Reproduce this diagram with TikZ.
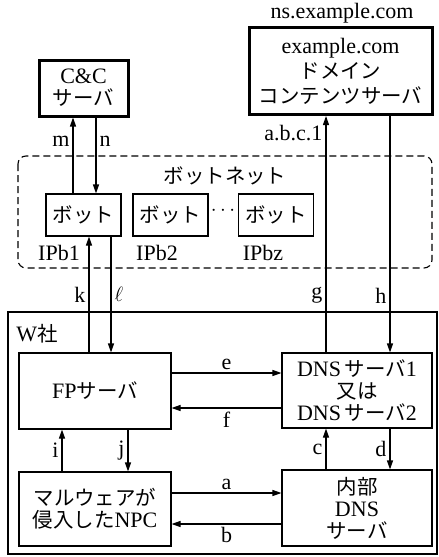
\documentclass[tikz,border=0pt]{standalone}
\usepackage{fontspec}
\setmainfont{Liberation Serif}
\newfontfamily\jp[Scale=0.93]{Noto Sans CJK JP}
\usetikzlibrary{arrows.meta}

\newcommand{\ja}[1]{{\jp #1}}

\begin{document}
\begin{tikzpicture}[x=1pt, y=-1pt, >={Triangle[length=9pt,width=6pt]},
    font=\fontsize{22}{22}\selectfont,
    box/.style={draw, line width=1.1pt, align=center, inner sep=0pt},
    bigbox/.style={box, line width=3pt},
    flow/.style={->, line width=1.1pt},
    lbl/.style={inner sep=3pt}]
    \useasboundingbox (0,0) rectangle (439,557);

    % outside servers
    \node[bigbox, minimum width=89pt, minimum height=56pt] (cc) at (83.5,88)
        {C\&C\\\ja{サーバ}};
    \node[bigbox, minimum width=183pt, minimum height=87pt] (ns) at (340.5,71)
        {example.com\\[3pt]\ja{ドメイン}\\[3pt]\ja{コンテンツサーバ}};
    \node (nsname) at (342,13) {ns.example.com};

    % botnet
    \draw[dash pattern=on 7pt off 4pt, line width=1.1pt, rounded corners=8pt]
        (18,156) rectangle (432,268);
    \node (botnet) at (225,176) {\ja{ボットネット}};
    \node[box, minimum width=75pt, minimum height=42pt] (bot1) at (83.5,215) {\ja{ボット}};
    \node[box, minimum width=75pt, minimum height=42pt] (bot2) at (170.5,215) {\ja{ボット}};
    \node[box, minimum width=75pt, minimum height=42pt] (botz) at (276,215) {\ja{ボット}};
    \node (dots) at (223,211) {$\cdots$};
    \node (ip1) at (59,253) {IPb1};
    \node (ip2) at (157,253) {IPb2};
    \node (ipz) at (263,253) {IPbz};

    % W company
    \draw[line width=1.1pt] (8,312) rectangle (437,554);
    \node (wsha) at (37,334) {W\ja{社}};
    \node[box, minimum width=152pt, minimum height=76pt] (fp) at (95,391) {FP\ja{サーバ}};
    \node[box, minimum width=152pt, minimum height=74pt] (npc) at (95,509)
        {\ja{マルウェアが}\\\ja{侵入した}NPC};
    \node[box, minimum width=150pt, minimum height=75pt] (dns) at (357,390.5)
        {DNS\,\ja{サーバ}1\\\ja{又は}\\DNS\,\ja{サーバ}2};
    \node[box, minimum width=150pt, minimum height=76pt] (idns) at (357,508)
        {\ja{内部}\\DNS\\\ja{サーバ}};

    % connectors
    \draw[flow] (bot1.north -| 73,0) -- (cc.south -| 73,0) node[lbl, left, pos=0.69] {m};
    \draw[flow] (cc.south -| 96,0) -- (bot1.north -| 96,0) node[lbl, right, pos=0.31] {n};
    \draw[flow] (dns.north -| 326,0) -- (ns.south -| 326,0)
        node[lbl, left, pos=0.24] {g} node[lbl, left, pos=0.93] {a.b.c.1};
    \draw[flow] (ns.south -| 390,0) -- (dns.north -| 390,0) node[lbl, left, pos=0.76] {h};
    \draw[flow] (fp.north -| 89,0) -- (bot1.south -| 89,0) node[lbl, left, pos=0.5] {k};
    \draw[flow] (bot1.south -| 111,0) -- (fp.north -| 111,0) node[lbl, right, pos=0.5] {$\ell$};
    \draw[flow] (fp.east |- 0,373) -- (dns.west |- 0,373) node[lbl, above, pos=0.5] {e};
    \draw[flow] (dns.west |- 0,408) -- (fp.east |- 0,408) node[lbl, below, pos=0.5] {f};
    \draw[flow] (npc.north -| 62,0) -- (fp.south -| 62,0) node[lbl, left, pos=0.5] {i};
    \draw[flow] (fp.south -| 128,0) -- (npc.north -| 128,0) node[lbl, left, pos=0.5] {j};
    \draw[flow] (idns.north -| 326,0) -- (dns.south -| 326,0) node[lbl, left, pos=0.5] {c};
    \draw[flow] (dns.south -| 390,0) -- (idns.north -| 390,0) node[lbl, left, pos=0.5] {d};
    \draw[flow] (npc.east |- 0,493) -- (idns.west |- 0,493) node[lbl, above, pos=0.5] {a};
    \draw[flow] (idns.west |- 0,524) -- (npc.east |- 0,524) node[lbl, below, pos=0.5] {b};
\end{tikzpicture}
\end{document}
